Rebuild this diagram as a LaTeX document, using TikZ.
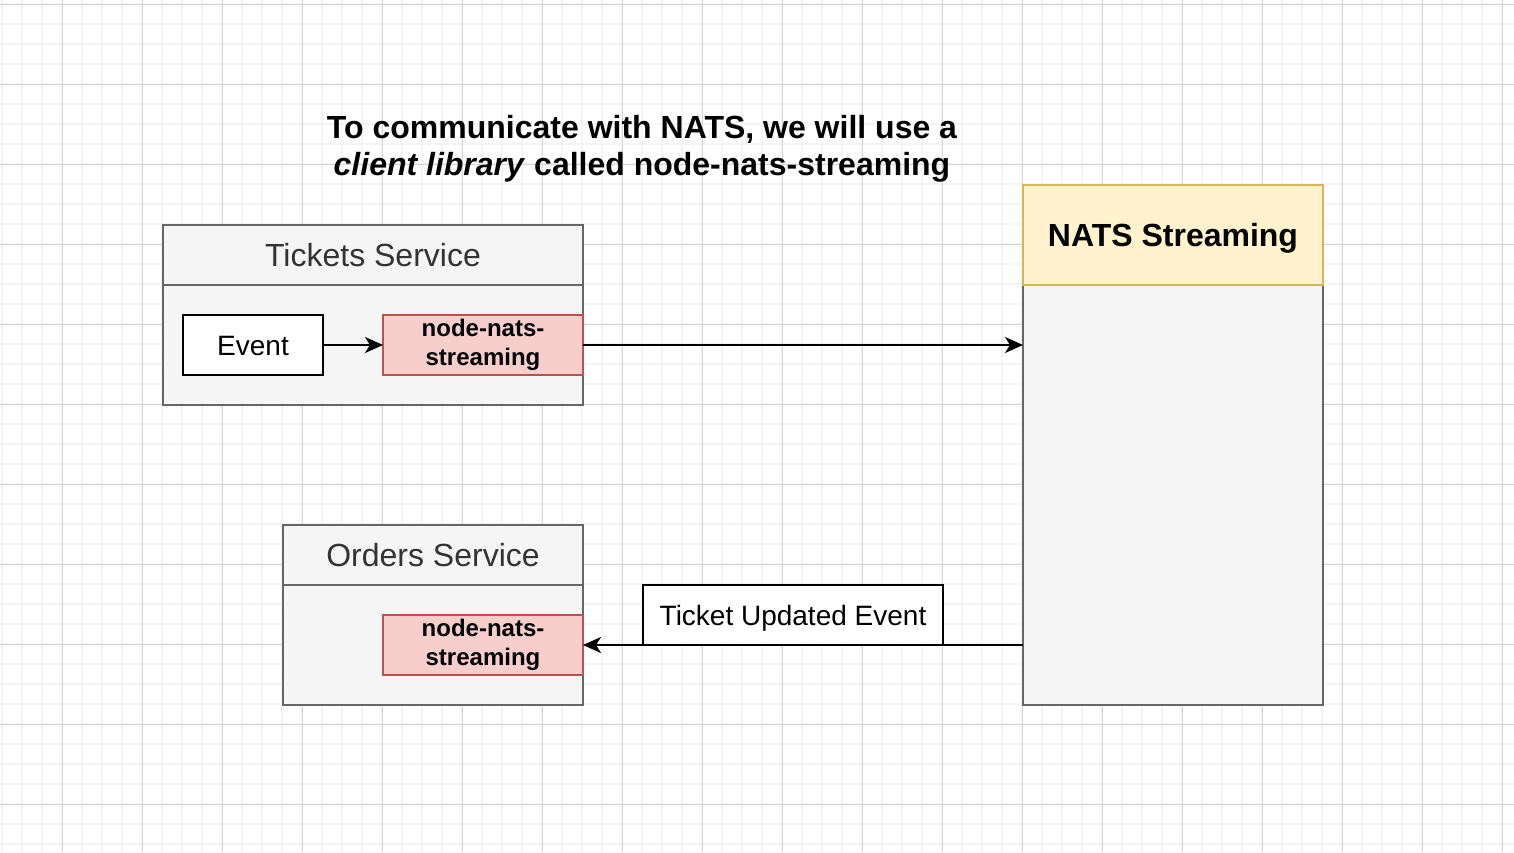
\documentclass[tikz,border=0pt]{standalone}
\usepackage{fontspec}
\setmainfont{Liberation Sans}
\usetikzlibrary{arrows.meta,positioning,calc}

\definecolor{panelfill}{HTML}{F5F5F5}
\definecolor{panelline}{HTML}{666666}
\definecolor{paneltext}{HTML}{333333}
\definecolor{libfill}{HTML}{F8CECC}
\definecolor{libline}{HTML}{B85450}
\definecolor{natsfill}{HTML}{FFF2CC}
\definecolor{natsline}{HTML}{D6B656}
\definecolor{gridminor}{HTML}{F4F4F4}
\definecolor{gridmajor}{HTML}{D6D6D6}

\tikzset{
  panel/.style={draw=panelline, fill=panelfill, line width=2pt, inner sep=0pt, outer sep=0pt},
  panelhead/.style={panel, text height=23pt, text depth=0pt, text=paneltext,
    font=\fontsize{32}{38}\selectfont},
  libbox/.style={draw=libline, fill=libfill, line width=2pt, inner sep=0pt, outer sep=0pt,
    minimum width=200pt, minimum height=60pt, align=center,
    font=\bfseries\fontsize{24}{29}\selectfont},
  plainbox/.style={draw=black, fill=white, line width=2pt, inner sep=0pt, outer sep=0pt,
    minimum height=60pt, text height=20pt, text depth=0pt, font=\fontsize{28}{34}\selectfont},
  flow/.style={line width=2pt, -{Stealth[length=18pt,width=16pt,inset=5pt]}},
}

\begin{document}
\begin{tikzpicture}[x=1pt,y=-1pt]
    \useasboundingbox (0,0) rectangle (1514,852);

    % background grid
    \foreach \x in {2,22,...,1514} \draw[gridminor, line width=1.5pt] (\x,0) -- (\x,852);
    \foreach \y in {4,24,...,852} \draw[gridminor, line width=1.5pt] (0,\y) -- (1514,\y);
    \foreach \x in {62,142,...,1514} \draw[gridmajor, line width=1pt] (\x,0) -- (\x,852);
    \foreach \y in {4,84,...,852} \draw[gridmajor, line width=1pt] (0,\y) -- (1514,\y);

    \node [align=center, font=\bfseries\fontsize{32}{37}\selectfont] (title) at (642,149)
      {To communicate with NATS, we will use a\\ \textit{client library} called node-nats-streaming};

    % tickets service
    \node [panel, minimum width=420pt, minimum height=120pt] (tickets) at (373,345) {};
    \node [panelhead, minimum width=420pt, minimum height=60pt, above=0pt of tickets] (ticketsHead) {Tickets Service};
    \node [libbox, anchor=east] (tnns) at (tickets.east) {node-nats-\\streaming};
    \node [plainbox, minimum width=140pt, left=60pt of tnns] (event) {Event};

    % orders service
    \node [panel, minimum width=300pt, minimum height=120pt] (orders) at (433,645) {};
    \node [panelhead, minimum width=300pt, minimum height=60pt, above=0pt of orders] (ordersHead) {Orders Service};
    \node [libbox, anchor=east] (onns) at (orders.east) {node-nats-\\streaming};

    % nats streaming server
    \node [panel, minimum width=300pt, minimum height=420pt] (nats) at (1173,495) {};
    \node [draw=natsline, fill=natsfill, line width=2pt, inner sep=0pt, outer sep=0pt,
      text height=23pt, text depth=0pt, minimum width=300pt, minimum height=100pt,
      font=\bfseries\fontsize{32}{38}\selectfont, above=0pt of nats] (natsHead) {NATS Streaming};

    \draw [flow] (event) -- (tnns);
    \draw [flow] (tnns.east) -- (tnns.east -| nats.west);
    \draw [flow] (onns.east -| nats.west) -- (onns.east);

    \node [plainbox, minimum width=300pt] (updated) at (793,615) {Ticket Updated Event};
\end{tikzpicture}
\end{document}
